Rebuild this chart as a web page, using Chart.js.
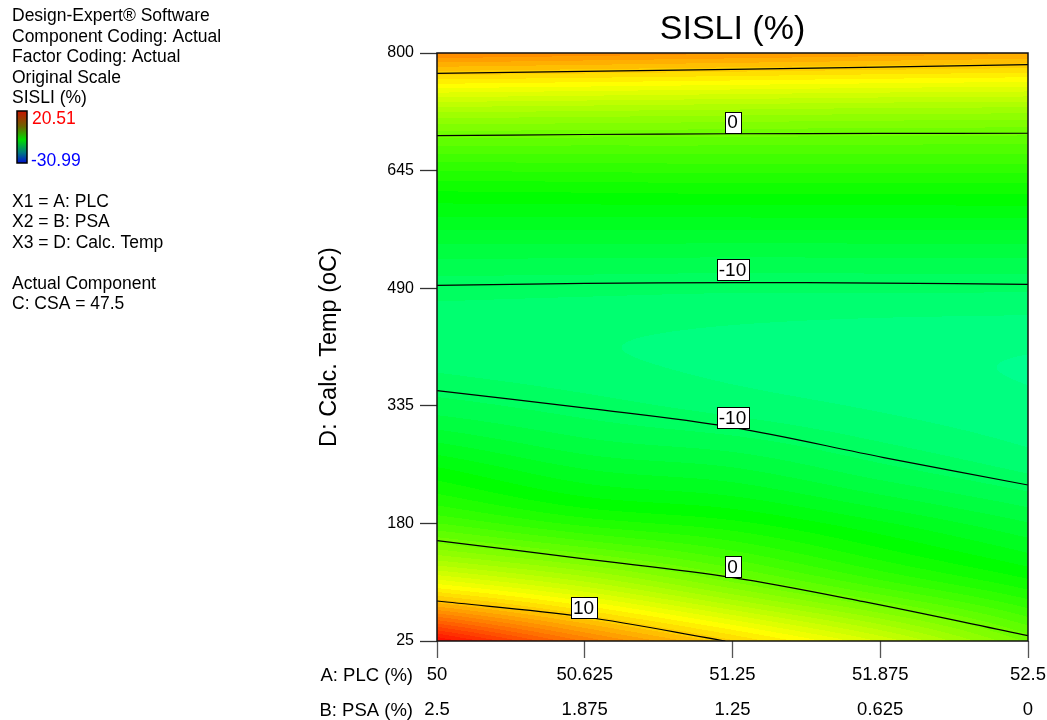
<!DOCTYPE html>
<html>
<head>
<meta charset="utf-8">
<script src="https://cdn.jsdelivr.net/npm/chart.js@4/dist/chart.umd.min.js"></script>
<style>
  html, body { margin: 0; padding: 0; background: #fff; }
  #wrap { width: 1047px; height: 720px; position: relative; }
</style>
</head>
<body>
<div id="wrap"><canvas id="chartSisli"></canvas></div>
<script>
// ejes
const plcTicks = [50, 50.625, 51.25, 51.875, 52.5];
const psaTicks = [2.5, 1.875, 1.25, 0.625, 0];
const tempTicks = [25, 180, 335, 490, 645, 800];

// SISLI (%): columnas = PLC, filas = temperatura
const gridPLC = [50, 50.625, 51.25, 51.875, 52.5];
const gridTemp = [25, 102.5, 180, 257.5, 335, 412.5, 490, 567.5, 645, 722.5, 800];
const sisliGrid = [
    [20.2, 14.4, 9.8, 5.5, 0.6],
    [6.9, 4.1, 0.8, -2.2, -4.6],
    [-1.6, -3.5, -4.6, -6.3, -8.0],
    [-5.8, -7.5, -8.2, -9.6, -10.8],
    [-9.3, -10.1, -10.8, -11.4, -11.9],
    [-10.9, -11.2, -11.5, -11.8, -12.0],
    [-10.1, -10.2, -10.3, -10.3, -10.3],
    [-7.2, -7.2, -7.2, -7.2, -7.2],
    [-3.2, -3.1, -3.0, -3.0, -3.0],
    [3.3, 3.1, 2.9, 2.7, 2.6],
    [13.8, 13.4, 13.0, 12.6, 12.2]
];
const escalaMax = 20.51;
const escalaMin = -30.99;

// curvas de nivel [PLC, temp]
const iso10Alta = [[50, 773.2], [51.25, 778.5], [52.5, 784.6]];
const iso0Alta = [[50, 691], [50.625, 692.6], [51.25, 693.6], [51.875, 694], [52.5, 694.2]];
const isoM10Alta = [[50, 493.8], [50.625, 496.3], [51.25, 497.3], [51.875, 496.8], [52.5, 495.1]];
const isoM10Baja = [[50, 354.9], [50.64, 331.7], [51.25, 306.6], [51.89, 266.8], [52.5, 230.6]];
const iso0Baja = [[50, 157.2], [50.64, 132.7], [51.246, 108.9], [51.805, 76.8], [52.5, 32.1]];
const iso10Baja = [[50, 77.7], [50.62, 57], [51.22, 25]];

const etiquetasTexto = ['0', '-10', '-10', '0', '10'];
const etiquetasPLC = [51.25, 51.25, 51.25, 51.25, 50.62];
const etiquetasTemp = [709, 514, 319, 123, 68.5];

const FUENTE = '"Liberation Sans", Arial, sans-serif';
Chart.defaults.font.family = FUENTE;
Chart.defaults.color = '#000';

const cubic = (p0, p1, p2, p3, t) =>
    p1 + 0.5 * t * (p2 - p0 + t * (2 * p0 - 5 * p1 + 4 * p2 - p3 + t * (3 * (p1 - p2) + p3 - p0)));

const valorMalla = (plc, temp) => {
    const nx = gridPLC.length, ny = gridTemp.length;
    const gx = (plc - gridPLC[0]) / (gridPLC[1] - gridPLC[0]);
    const gy = (temp - gridTemp[0]) / (gridTemp[1] - gridTemp[0]);
    const ix = Math.min(Math.max(Math.floor(gx), 0), nx - 2);
    const iy = Math.min(Math.max(Math.floor(gy), 0), ny - 2);
    const fx = gx - ix, fy = gy - iy;
    const at = (r, c) => {
        if (r < 0) return 2 * at(0, c) - at(1, c);
        if (r >= ny) return 2 * at(ny - 1, c) - at(ny - 2, c);
        if (c < 0) return 2 * at(r, 0) - at(r, 1);
        if (c >= nx) return 2 * at(r, nx - 1) - at(r, nx - 2);
        return sisliGrid[r][c];
    };
    const filas = [];
    for (let k = -1; k <= 2; k++) {
        filas.push(cubic(at(iy + k, ix - 1), at(iy + k, ix), at(iy + k, ix + 1), at(iy + k, ix + 2), fx));
    }
    return cubic(filas[0], filas[1], filas[2], filas[3], fy);
};

const colorSisli = (v) => {
    let t = (v - escalaMin) / (escalaMax - escalaMin);
    t = Math.min(Math.max(t, 0), 1);
    t = Math.round(t * 64) / 64;
    const s = t * 4;
    if (s < 1) return [0, 255 * s, 255];
    if (s < 2) return [0, 255, 255 * (2 - s)];
    if (s < 3) return [255 * (s - 2), 255, 0];
    return [255, 255 * (4 - s), 0];
};

const fondoPlugin = {
    id: 'fondo',
    beforeDatasetsDraw(chart) {
        const { ctx, chartArea: a, scales: { x, y } } = chart;
        const w = Math.round(a.right - a.left), h = Math.round(a.bottom - a.top);
        const off = document.createElement('canvas');
        off.width = w;
        off.height = h;
        const octx = off.getContext('2d');
        const img = octx.createImageData(w, h);
        for (let j = 0; j < h; j++) {
            const temp = y.getValueForPixel(a.top + j + 0.5);
            for (let i = 0; i < w; i++) {
                const plc = x.getValueForPixel(a.left + i + 0.5);
                const [r, g, b] = colorSisli(valorMalla(plc, temp));
                const k = (j * w + i) * 4;
                img.data[k] = r;
                img.data[k + 1] = g;
                img.data[k + 2] = b;
                img.data[k + 3] = 255;
            }
        }
        octx.putImageData(img, 0, 0);
        ctx.drawImage(off, a.left, a.top);
    },
    afterDatasetsDraw(chart) {
        const { ctx, chartArea: a, scales: { x, y } } = chart;
        ctx.save();
        // etiquetas de las curvas
        ctx.font = '19px ' + FUENTE;
        ctx.textAlign = 'center';
        ctx.textBaseline = 'middle';
        etiquetasTexto.forEach((txt, i) => {
            const px = x.getPixelForValue(etiquetasPLC[i]);
            const py = y.getPixelForValue(etiquetasTemp[i]);
            const tw = Math.round(ctx.measureText(txt).width + 5);
            const bx = Math.round(px - tw / 2) + 0.5, by = Math.round(py - 10.5) + 0.5;
            ctx.fillStyle = '#fff';
            ctx.fillRect(bx, by, tw, 21);
            ctx.strokeStyle = '#000';
            ctx.lineWidth = 1;
            ctx.strokeRect(bx, by, tw, 21);
            ctx.fillStyle = '#000';
            ctx.fillText(txt, px, py + 1);
        });
        // marco
        ctx.strokeStyle = '#111';
        ctx.lineWidth = 1.5;
        ctx.strokeRect(a.left, a.top, a.right - a.left, a.bottom - a.top);
        ctx.restore();
    },
    afterDraw(chart) {
        const { ctx, chartArea: a } = chart;
        ctx.save();
        ctx.fillStyle = '#000';
        ctx.textBaseline = 'alphabetic';
        // titulo
        ctx.font = '34px ' + FUENTE;
        ctx.textAlign = 'center';
        ctx.fillText('SISLI (%)', (a.left + a.right) / 2, 39);

        // nombres de los ejes x
        ctx.font = '18.5px ' + FUENTE;
        ctx.textAlign = 'right';
        ctx.textBaseline = 'middle';
        ctx.fillText('A: PLC (%)', 413, 676);
        ctx.fillText('B: PSA (%)', 413, 711);

        // bloque de informacion
        ctx.font = '17.5px ' + FUENTE;
        ctx.textAlign = 'left';
        ctx.textBaseline = 'alphabetic';
        const lineas = [
            ['Design-Expert\u00AE Software', 21],
            ['Component Coding: Actual', 41.5],
            ['Factor Coding: Actual', 62],
            ['Original Scale', 82.5],
            ['SISLI (%)', 103],
            ['X1 = A: PLC', 206.5],
            ['X2 = B: PSA', 227],
            ['X3 = D: Calc. Temp', 247.5],
            ['Actual Component', 288.5],
            ['C: CSA = 47.5', 309]
        ];
        lineas.forEach(([t, yy]) => ctx.fillText(t, 12, yy));

        // barra de color
        const grad = ctx.createLinearGradient(0, 111, 0, 163);
        grad.addColorStop(0, '#c81400');
        grad.addColorStop(0.3, '#6a6400');
        grad.addColorStop(0.55, '#00dc00');
        grad.addColorStop(0.8, '#007a80');
        grad.addColorStop(1, '#0010d0');
        ctx.fillStyle = grad;
        ctx.fillRect(17, 111, 10, 52);
        ctx.strokeStyle = '#000';
        ctx.lineWidth = 1.5;
        ctx.strokeRect(17, 111, 10, 52);
        ctx.fillStyle = '#ff0000';
        ctx.fillText(escalaMax.toFixed(2), 32, 124);
        ctx.fillStyle = '#0000ff';
        ctx.fillText(escalaMin.toFixed(2), 31, 166);
        ctx.restore();
    }
};

const puntos = (arr) => arr.map(([p, t]) => ({ x: p, y: t }));
const curva = (arr) => ({
    data: puntos(arr),
    showLine: true,
    borderColor: '#000',
    borderWidth: 1.2,
    pointRadius: 0,
    tension: 0.35,
    fill: false
});

const sinRelleno = (s) => { s.paddingLeft = 0; s.paddingRight = 0; };

const canvas = document.getElementById('chartSisli');
const chartSisli = new Chart(canvas.getContext('2d'), {
    type: 'scatter',
    data: {
        datasets: [iso10Alta, iso0Alta, isoM10Alta, isoM10Baja, iso0Baja, iso10Baja].map(curva)
    },
    options: {
        responsive: true,
        maintainAspectRatio: false,
        animation: false,
        layout: { padding: { left: 315, right: 19, top: 53, bottom: 0 } },
        plugins: {
            legend: { display: false },
            tooltip: { enabled: false },
            title: { display: false }
        },
        scales: {
            x: {
                type: 'linear',
                position: 'bottom',
                weight: 0,
                min: 50,
                max: 52.5,
                afterBuildTicks: (s) => { s.ticks = plcTicks.map(v => ({ value: v })); },
                afterFit: (s) => { s.height = 45; sinRelleno(s); },
                grid: { drawOnChartArea: false, tickLength: 17, tickColor: '#555', tickWidth: 1.3 },
                border: { display: false },
                ticks: {
                    font: { size: 18.5 },
                    color: '#000',
                    padding: 6,
                    maxRotation: 0,
                    autoSkip: false,
                    callback: (v) => String(v)
                }
            },
            x2: {
                type: 'linear',
                position: 'bottom',
                weight: 1,
                min: 0,
                max: 2.5,
                reverse: true,
                afterBuildTicks: (s) => { s.ticks = psaTicks.map(v => ({ value: v })); },
                afterFit: (s) => { s.height = 34; sinRelleno(s); },
                grid: { display: false, drawTicks: false },
                border: { display: false },
                ticks: {
                    font: { size: 18.5 },
                    color: '#000',
                    padding: 13,
                    maxRotation: 0,
                    autoSkip: false,
                    callback: (v) => String(v)
                }
            },
            y: {
                type: 'linear',
                min: 25,
                max: 800,
                afterBuildTicks: (s) => { s.ticks = tempTicks.map(v => ({ value: v })); },
                afterFit: (s) => { s.width = 122; },
                grid: { drawOnChartArea: false, tickLength: 17, tickColor: '#333', tickWidth: 1.3 },
                border: { display: false },
                ticks: { font: { size: 16 }, color: '#000', padding: 6 },
                title: {
                    display: true,
                    text: 'D: Calc. Temp (oC)',
                    font: { size: 23.5 },
                    color: '#000',
                    padding: { top: 0, bottom: 0 }
                }
            }
        }
    },
    plugins: [fondoPlugin]
});
</script>
</body>
</html>
